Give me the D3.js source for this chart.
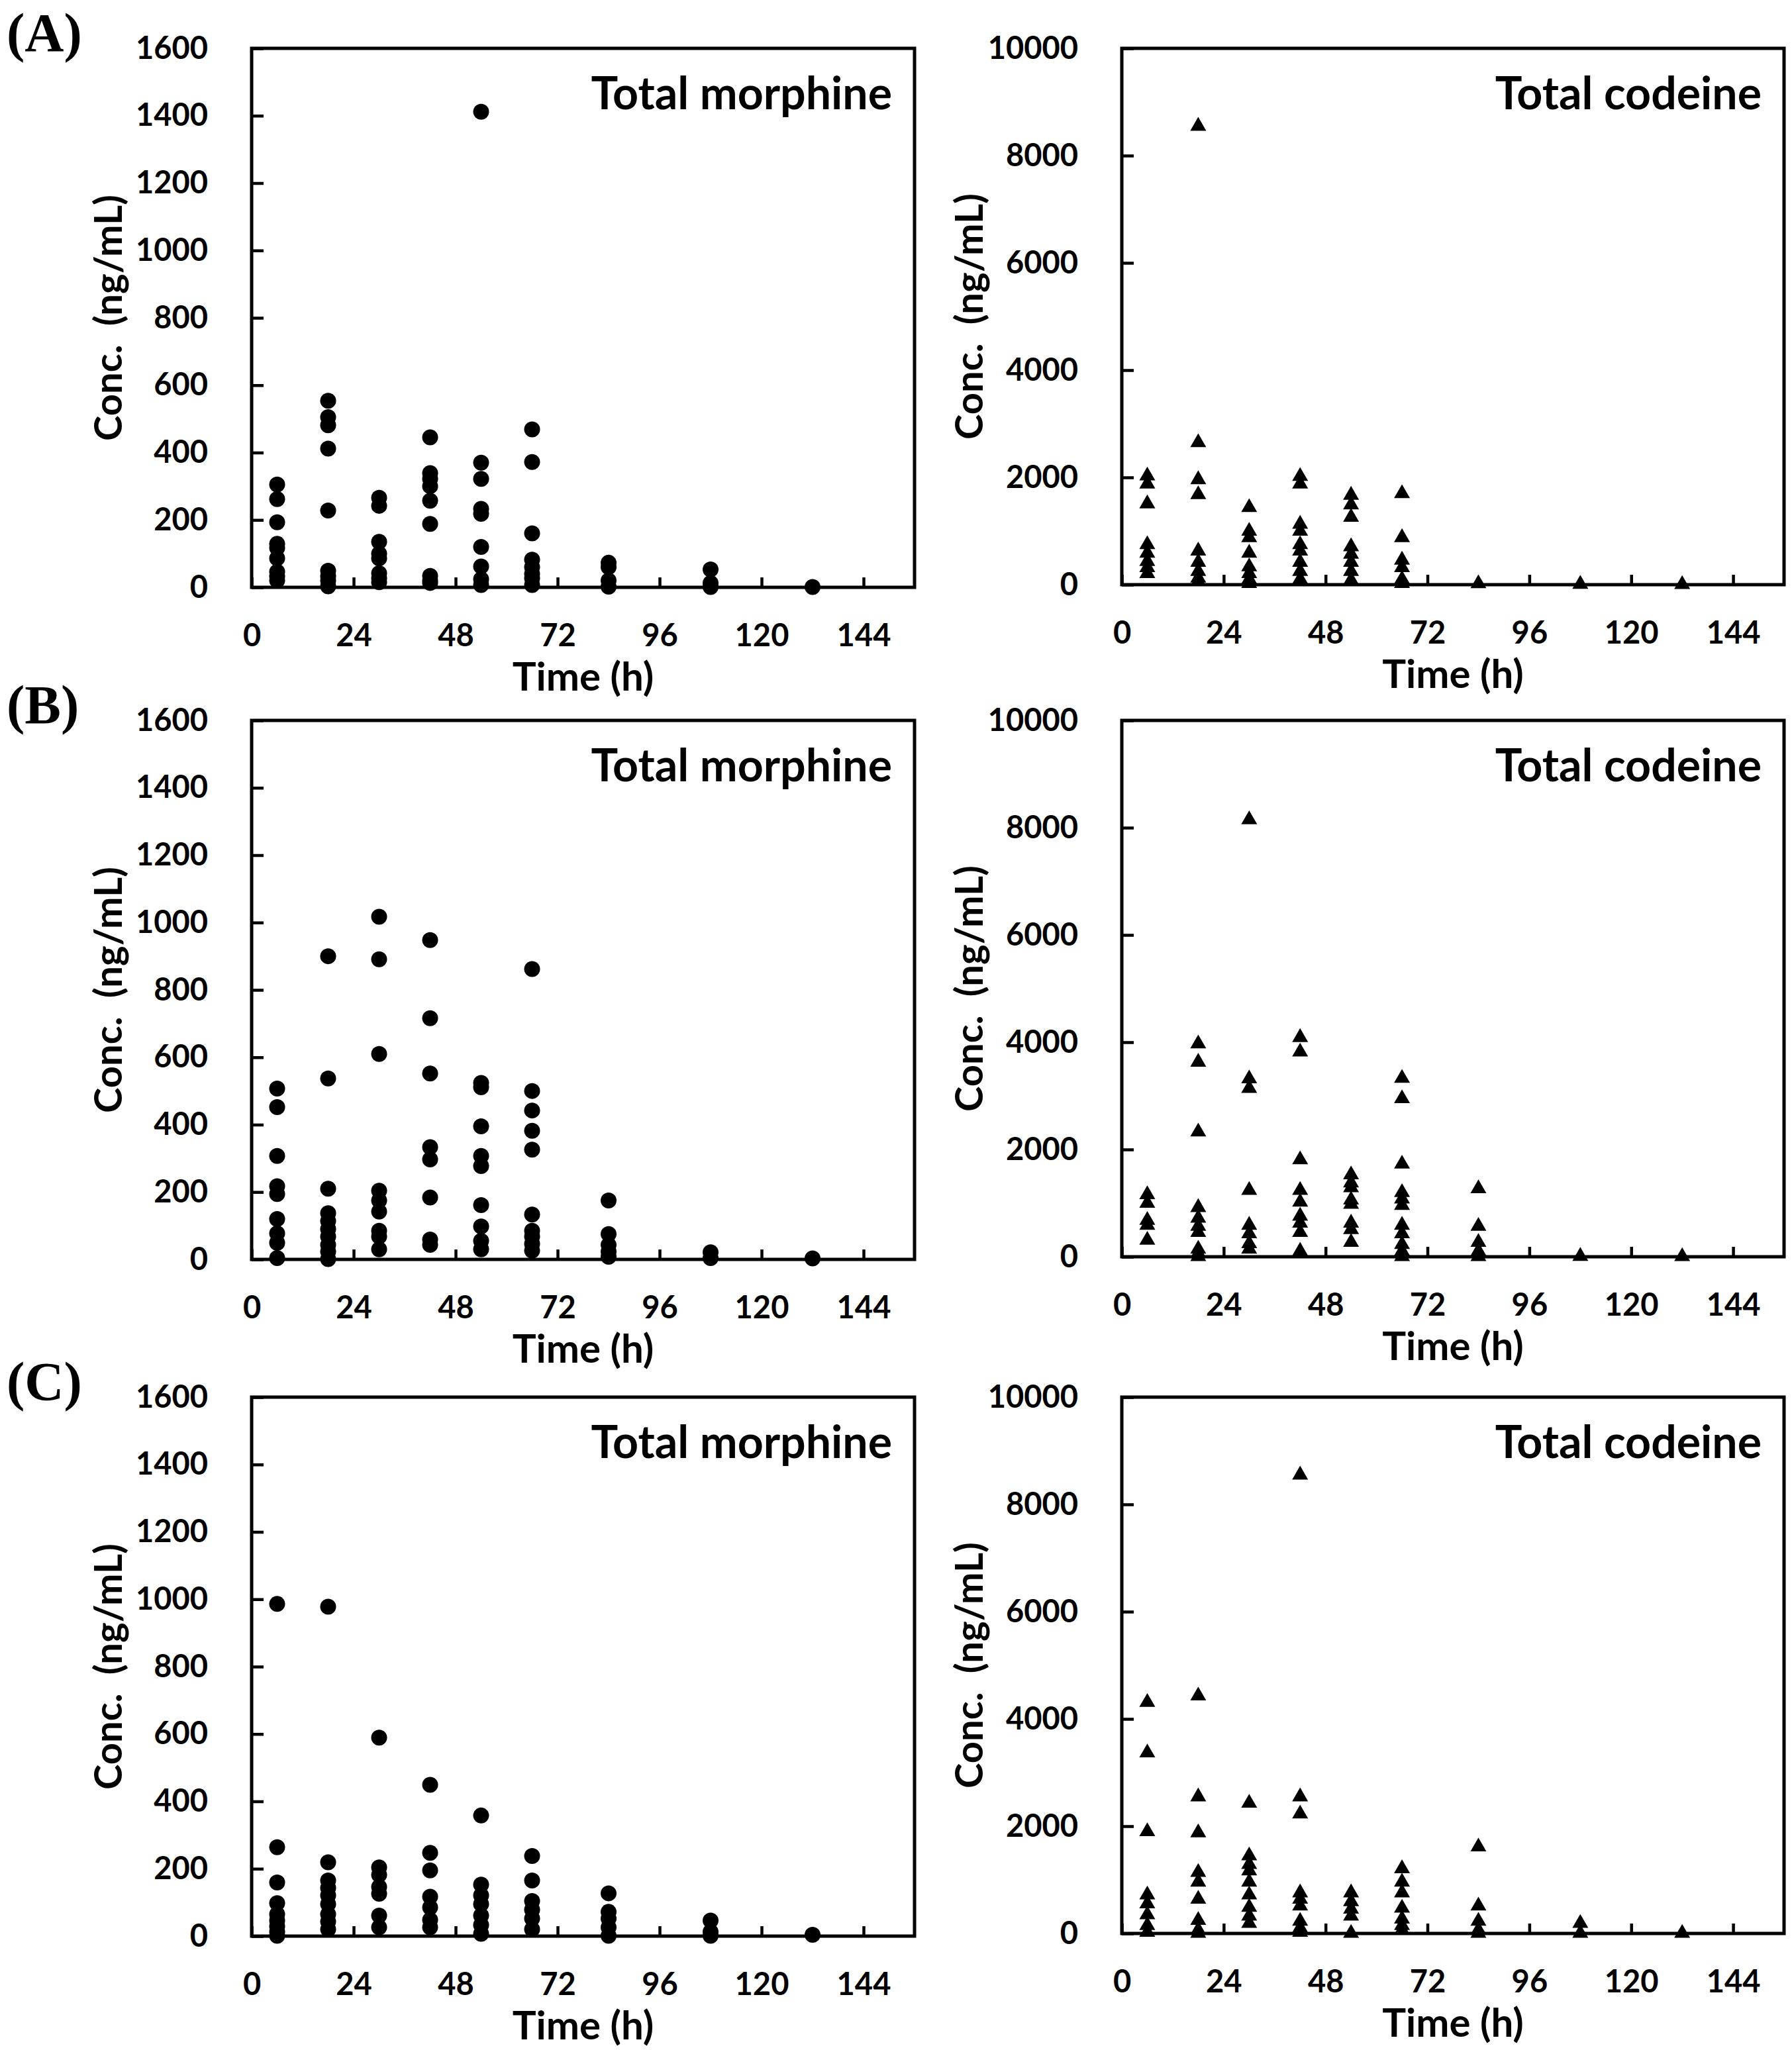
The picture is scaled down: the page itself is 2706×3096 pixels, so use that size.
<!DOCTYPE html>
<html>
<head>
<meta charset="utf-8">
<title>Total morphine and codeine concentrations</title>
<script src="https://d3js.org/d3.v7.min.js"></script>
<style>
  body { margin: 0; background: #fff; }
  text { font-family: Lato, "Open Sans", sans-serif; font-weight: bold; fill: #000; }
</style>
</head>
<body>
<script>
// sampling times (h), same for every panel
const times = [6, 18, 30, 42, 54, 66, 84, 108, 132];
const xTicks = [0, 24, 48, 72, 96, 120, 144];
const morphTicks = [0, 200, 400, 600, 800, 1000, 1200, 1400, 1600];
const codTicks = [0, 2000, 4000, 6000, 8000, 10000];

// concentrations per time point (ng/mL)
const morphA = [
  [305, 262, 193, 129, 117, 86, 46, 33, 20],
  [554, 505, 481, 412, 228, 49, 33, 20, 3],
  [266, 242, 135, 100, 86, 42, 27, 15],
  [445, 339, 322, 300, 257, 188, 34, 20, 13],
  [1412, 370, 322, 233, 218, 120, 62, 24, 7],
  [469, 372, 160, 82, 60, 40, 27, 7],
  [73, 60, 20, 2],
  [53, 13, 1],
  [1]
];
const codA = [
  [2030, 1880, 1510, 750, 590, 435, 320, 210],
  [8550, 2650, 1960, 1680, 630, 420, 250, 125, 60],
  [1440, 1000, 880, 590, 335, 210, 100, 25],
  [2020, 1880, 1130, 1000, 750, 630, 420, 250, 100],
  [1670, 1490, 1260, 710, 570, 420, 250, 85],
  [1700, 880, 460, 320, 100, 25],
  [20],
  [10],
  [5]
];
const morphB = [
  [507, 452, 307, 217, 194, 120, 77, 49, 4],
  [900, 537, 210, 137, 114, 90, 68, 43, 23, 1],
  [1017, 891, 610, 204, 175, 142, 85, 68, 30],
  [948, 716, 552, 333, 297, 184, 59, 43],
  [524, 511, 395, 307, 277, 161, 98, 55, 30],
  [862, 500, 442, 382, 326, 133, 85, 68, 46, 26],
  [175, 75, 43, 23, 8],
  [21, 4],
  [3]
];
const codB = [
  [1160, 1000, 680, 590, 310],
  [3970, 3630, 2330, 920, 720, 570, 455, 145, 65, 5],
  [8150, 3320, 3140, 1240, 590, 430, 245, 145],
  [4090, 3820, 1810, 1240, 1020, 760, 630, 455, 105],
  [1530, 1380, 1290, 1060, 980, 630, 510, 270],
  [3330, 2950, 1730, 1200, 1080, 960, 590, 430, 230, 105, 5],
  [1270, 570, 270, 105, 5],
  [10],
  [5]
];
const morphC = [
  [986, 264, 159, 98, 65, 46, 29, 13, 1],
  [978, 219, 165, 143, 121, 95, 65, 43, 20],
  [589, 204, 182, 146, 126, 61, 26],
  [449, 247, 195, 117, 85, 48, 26],
  [358, 153, 121, 95, 61, 33, 7],
  [238, 165, 104, 78, 52, 20],
  [127, 72, 52, 26, 1],
  [46, 13, 1],
  [4]
];
const codC = [
  [4310, 3370, 1900, 720, 555, 350, 150, 25],
  [4430, 2550, 1880, 1140, 960, 640, 245, 65, 5],
  [2430, 1450, 1290, 1170, 960, 720, 490, 325, 190],
  [8550, 2550, 2230, 760, 640, 515, 230, 105, 25],
  [760, 595, 455, 325, 5],
  [1210, 960, 760, 475, 270, 150, 65],
  [1615, 515, 230, 65, 5],
  [190, 5],
  [5]
];

const W = 2706, H = 3096;
const svg = d3.select("body").append("svg")
  .attr("width", W).attr("height", H)
  .attr("viewBox", `0 0 ${W} ${H}`);

const rowTop = [73, 1088, 2110];
const rowLetters = ["(A)", "(B)", "(C)"];
const cols = [
  {left: 380, right: 1381, h: 814, title: "Total morphine", ymax: 1600, ticks: morphTicks, shape: "circle", labOff: 196},
  {left: 1694, right: 2694, h: 810, title: "Total codeine", ymax: 10000, ticks: codTicks, shape: "triangle", labOff: 210}
];
const rowData = [[morphA, codA], [morphB, codB], [morphC, codC]];

const circle = d3.symbol().type(d3.symbolCircle).size(Math.PI * 12 * 12);
const tri = d3.symbol().type(d3.symbolTriangle).size(250);

rowTop.forEach((top, r) => {
  svg.append("text")
    .attr("x", 10).attr("y", top + 4)
    .style("font-family", "'Liberation Serif', 'Times New Roman', serif")
    .style("font-size", "82px")
    .text(rowLetters[r]);

  cols.forEach((c, ci) => {
    const bottom = top + c.h;
    const x = d3.scaleLinear().domain([0, 156]).range([c.left, c.right]);
    const y = d3.scaleLinear().domain([0, c.ymax]).range([bottom, top]);
    const g = svg.append("g");

    // frame
    g.append("rect")
      .attr("x", c.left).attr("y", top)
      .attr("width", c.right - c.left).attr("height", c.h)
      .attr("fill", "none").attr("stroke", "#000").attr("stroke-width", 5);

    // y axis, ticks pointing inward
    const ya = g.append("g")
      .attr("transform", `translate(${c.left},0)`)
      .call(d3.axisLeft(y).tickValues(c.ticks).tickFormat(d3.format("d"))
        .tickSizeInner(-18).tickSizeOuter(0).tickPadding(66));
    ya.select(".domain").remove();
    ya.selectAll("line").attr("stroke-width", 4.5);
    ya.selectAll("text").style("font-size", "47px").style("font-family", "Lato, sans-serif");

    // x axis
    const xa = g.append("g")
      .attr("transform", `translate(0,${bottom})`)
      .call(d3.axisBottom(x).tickValues(xTicks).tickFormat(d3.format("d"))
        .tickSizeInner(-15).tickSizeOuter(0).tickPadding(56));
    xa.select(".domain").remove();
    xa.selectAll("line").attr("stroke-width", 4.5);
    xa.selectAll("text").style("font-size", "47px").style("font-family", "Lato, sans-serif");

    // points
    const pts = [];
    rowData[r][ci].forEach((vals, i) => vals.forEach(v => pts.push({t: times[i], v: v})));
    g.selectAll("path.pt").data(pts).join("path")
      .attr("class", "pt")
      .attr("d", c.shape === "circle" ? circle : tri)
      .attr("transform", d => `translate(${x(d.t)},${y(d.v)})`)
      .attr("fill", "#000");

    // titles and labels
    g.append("text")
      .attr("x", c.right - 34).attr("y", top + 92)
      .attr("text-anchor", "end")
      .style("font-size", "68px")
      .text(c.title);

    g.append("text")
      .attr("x", (c.left + c.right) / 2).attr("y", bottom + 156)
      .attr("text-anchor", "middle")
      .style("font-size", "60px")
      .text("Time (h)");

    g.append("text")
      .attr("transform", `translate(${c.left - c.labOff},${(top + bottom) / 2}) rotate(-90)`)
      .attr("text-anchor", "middle")
      .style("font-size", "58px")
      .style("white-space", "pre")
      .text("Conc.  (ng/mL)");
  });
});
</script>
</body>
</html>
